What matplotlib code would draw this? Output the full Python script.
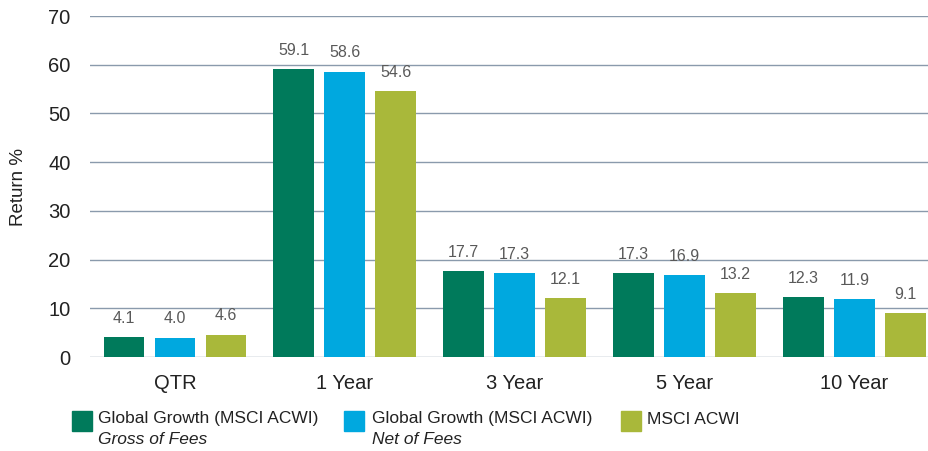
import numpy as np
import matplotlib
matplotlib.use("Agg")
import matplotlib.pyplot as plt
from matplotlib.patches import Rectangle

categories = ["QTR", "1 Year", "3 Year", "5 Year", "10 Year"]
gross = [4.1, 59.1, 17.7, 17.3, 12.3]
net = [4.0, 58.6, 17.3, 16.9, 11.9]
acwi = [4.6, 54.6, 12.1, 13.2, 9.1]

series_names = ["Global Growth (MSCI ACWI)", "Global Growth (MSCI ACWI)", "MSCI ACWI"]
series_notes = ["Gross of Fees", "Net of Fees", ""]
colors = ["#007A5B", "#00A8DF", "#A9B83A"]

plt.rcParams["font.family"] = ["Liberation Sans", "DejaVu Sans"]

fig = plt.figure(figsize=(9.29, 4.51), dpi=100)
ax = fig.add_axes([0.0969, 0.2084, 0.9031, 0.7561])

x = np.arange(len(categories))
width = 0.24
offsets = [-0.3, 0.0, 0.3]
for vals, off, col in zip([gross, net, acwi], offsets, colors):
    bars = ax.bar(x + off, vals, width, color=col, zorder=3)
    for b, v in zip(bars, vals):
        ax.annotate(f"{v:.1f}", (b.get_x() + b.get_width() / 2, v),
                    xytext=(0, 8), textcoords="offset points",
                    ha="center", va="bottom", fontsize=11.5, color="#595959")

ax.set_ylim(0, 70)
ax.set_xlim(-0.5, 4.44)
ax.set_yticks(range(0, 71, 10))
ax.set_xticks(x)
ax.set_xticklabels(categories)
ax.tick_params(length=0, labelsize=14.5, colors="#222222")
ax.tick_params(axis="y", pad=14)
ax.tick_params(axis="x", pad=12)
ax.grid(axis="y", color="#8A9AAC", linewidth=1, zorder=0)
for s in ax.spines.values():
    s.set_visible(False)
ax.set_ylabel("Return %", fontsize=13.5, color="#222222", labelpad=15)

# legend drawn by hand so the second line can be italic
box_x = [72, 344, 621]
text_x = [98, 372, 647]
for bx, tx, name, note, col in zip(box_x, text_x, series_names, series_notes, colors):
    fig.add_artist(Rectangle((bx / 929, (451 - 431) / 451), 20 / 929, 20 / 451,
                             transform=fig.transFigure, color=col))
    fig.text(tx / 929, (451 - 419) / 451, name, fontsize=12.5,
             color="#222222", va="center", ha="left")
    if note:
        fig.text(tx / 929, (451 - 440) / 451, note, fontsize=12.5,
                 style="italic", color="#222222", va="center", ha="left")

fig.savefig("out.png", dpi=100)
